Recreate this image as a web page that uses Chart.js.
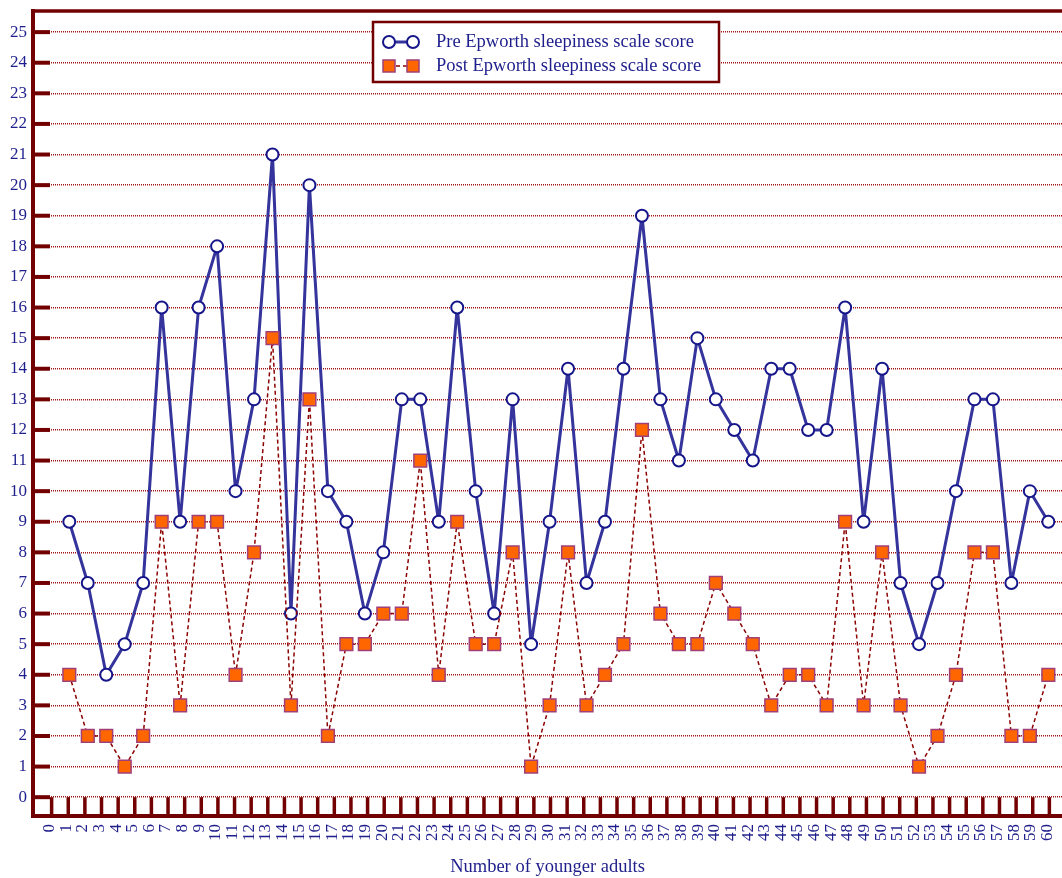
<!DOCTYPE html>
<html><head><meta charset="utf-8">
<script src="https://cdn.jsdelivr.net/npm/chart.js@4.4.1/dist/chart.umd.min.js"></script>
<style>html,body{margin:0;padding:0;background:#fff;overflow:hidden}#wrap{width:1062px;height:878px}</style>
</head><body><div id="wrap"><canvas id="c" width="1062" height="878"></canvas></div>
<script>
const subjects = [1,2,3,4,5,6,7,8,9,10,11,12,13,14,15,16,17,18,19,20,21,22,23,24,25,26,27,28,29,30,31,32,33,34,35,36,37,38,39,40,41,42,43,44,45,46,47,48,49,50,51,52,53,54];
const preScores = [9,7,4,5,7,16,9,16,18,10,13,21,6,20,10,9,6,8,13,13,9,16,10,6,13,5,9,14,7,9,14,19,13,11,15,13,12,11,14,14,12,12,16,9,14,7,5,7,10,13,13,7,10,9];
const postScores = [4,2,2,1,2,9,3,9,9,4,8,15,3,13,2,5,5,6,6,11,4,9,5,5,8,1,3,8,3,4,5,12,6,5,5,7,6,5,3,4,4,3,9,3,8,3,1,2,4,8,8,2,2,4];
const yTickValues = [0,1,2,3,4,5,6,7,8,9,10,11,12,13,14,15,16,17,18,19,20,21,22,23,24,25];
const xTickLabels = [0,1,2,3,4,5,6,7,8,9,10,11,12,13,14,15,16,17,18,19,20,21,22,23,24,25,26,27,28,29,30,31,32,33,34,35,36,37,38,39,40,41,42,43,44,45,46,47,48,49,50,51,52,53,54,55,56,57,58,59,60];
const seriesNames = ['Pre Epworth sleepiness scale score','Post Epworth sleepiness scale score'];
const axisTitle = 'Number of younger adults';

const MAROON = '#730000';
const TXT = '#1e1e8c';
const FONT = '"Liberation Serif", "Times New Roman", serif';

const framePlugin = {
  id: 'frame',
  afterDraw(chart) {
    const ctx = chart.ctx, a = chart.chartArea;
    const ys = chart.scales.y, xl = chart.scales.xl;
    ctx.save();
    ctx.strokeStyle = MAROON;
    ctx.lineWidth = 3.5;
    ctx.beginPath(); ctx.moveTo(a.left - 2, a.top); ctx.lineTo(a.right, a.top); ctx.stroke();
    ctx.lineWidth = 4;
    ys.ticks.forEach(t => {
      const p = ys.getPixelForValue(t.value);
      ctx.beginPath(); ctx.moveTo(a.left, p); ctx.lineTo(a.left + 17, p); ctx.stroke();
    });
    ctx.lineWidth = 3.5;
    const y0 = ys.getPixelForValue(0);
    xl.ticks.forEach(t => {
      const p = xl.getPixelForValue(t.value);
      ctx.beginPath(); ctx.moveTo(p, y0); ctx.lineTo(p, a.bottom); ctx.stroke();
    });
    const lx = 373, ly = 22, lw = 346, lh = 60;
    ctx.fillStyle = '#fff';
    ctx.fillRect(lx, ly, lw, lh);
    ctx.lineWidth = 2.5;
    ctx.strokeRect(lx, ly, lw, lh);
    const rows = [42, 66];
    chart.data.datasets.forEach((ds, i) => {
      const yy = rows[i];
      const x1 = 389, x2 = 413;
      ctx.save();
      ctx.strokeStyle = ds.borderColor;
      ctx.lineWidth = ds.borderWidth;
      ctx.setLineDash(ds.borderDash || []);
      ctx.beginPath(); ctx.moveTo(x1, yy); ctx.lineTo(x2, yy); ctx.stroke();
      ctx.setLineDash([]);
      [x1, x2].forEach(px => {
        ctx.fillStyle = ds.pointBackgroundColor;
        ctx.strokeStyle = ds.pointBorderColor;
        ctx.lineWidth = ds.pointBorderWidth;
        ctx.beginPath();
        if (ds.pointStyle === 'rect') {
          const s = 6;
          ctx.rect(px - s, yy - s, 2 * s, 2 * s);
        } else {
          ctx.arc(px, yy, 6, 0, Math.PI * 2);
        }
        ctx.fill(); ctx.stroke();
      });
      ctx.restore();
      ctx.fillStyle = TXT;
      ctx.font = '18.5px ' + FONT;
      ctx.textBaseline = 'middle';
      ctx.textAlign = 'left';
      ctx.fillText(ds.label, 436, yy);
    });
    ctx.restore();
  }
};

new Chart(document.getElementById('c'), {
  type: 'line',
  data: {
    datasets: [
      {
        label: seriesNames[0],
        data: subjects.map((s, i) => ({x: s, y: preScores[i]})),
        borderColor: '#34349c',
        borderWidth: 3,
        borderJoinStyle: 'round',
        pointStyle: 'circle',
        pointRadius: 6,
        pointBackgroundColor: '#ffffff',
        pointBorderColor: '#16168a',
        pointBorderWidth: 2,
        tension: 0,
        order: 2,
        xAxisID: 'x', yAxisID: 'y'
      },
      {
        label: seriesNames[1],
        data: subjects.map((s, i) => ({x: s, y: postScores[i]})),
        borderColor: '#8b0000',
        borderWidth: 1.5,
        borderDash: [4, 3],
        borderJoinStyle: 'round',
        pointStyle: 'rect',
        pointRadius: 9,
        pointBackgroundColor: '#ff6600',
        pointBorderColor: '#a0407a',
        pointBorderWidth: 1.5,
        tension: 0,
        order: 1,
        xAxisID: 'x', yAxisID: 'y'
      }
    ]
  },
  options: {
    responsive: false,
    animation: false,
    devicePixelRatio: 1,
    layout: { autoPadding: false, padding: { top: 11, right: 0, left: 0, bottom: 0 } },
    plugins: { legend: { display: false }, tooltip: { enabled: false } },
    scales: {
      x: {
        type: 'linear', display: false, min: -0.965, max: 54.74
      },
      xl: {
        type: 'linear', position: 'bottom', min: -1.12, max: 60.76,
        afterBuildTicks: s => { s.ticks = xTickLabels.map(v => ({value: v})); },
        afterFit: s => { s.height = 62; s.paddingLeft = 0; s.paddingRight = 0; },
        grid: { display: false, drawTicks: false },
        border: { display: true, color: MAROON, width: 4 },
        ticks: {
          autoSkip: false, minRotation: 90, maxRotation: 90, padding: 8, labelOffset: -2,
          color: TXT, font: { family: FONT, size: 17 },
          callback: v => String(v)
        },
        title: {
          display: true, text: axisTitle, color: TXT,
          font: { family: FONT, size: 18.5 }, padding: { top: 0, bottom: 0 }
        }
      },
      y: {
        type: 'linear', position: 'left', min: -0.615, max: 25.69,
        afterBuildTicks: s => { s.ticks = yTickValues.map(v => ({value: v})); },
        afterFit: s => { s.width = 33; s.paddingTop = 0; s.paddingBottom = 0; },
        grid: { color: '#a31515', lineWidth: 1.5, drawTicks: false },
        border: { display: true, color: MAROON, width: 4, dash: [1, 1] },
        ticks: {
          padding: 6, color: TXT, font: { family: FONT, size: 17 },
          callback: v => String(v)
        }
      }
    }
  },
  plugins: [framePlugin]
});
</script>
</body></html>
